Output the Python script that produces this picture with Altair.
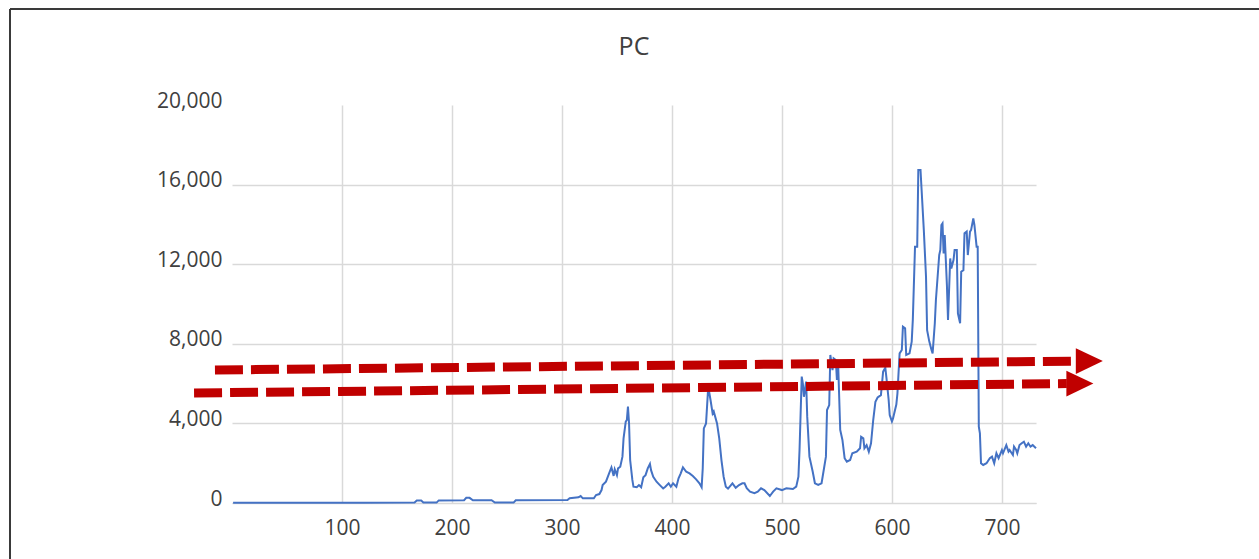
import altair as alt
import pandas as pd

# ---- series ----
xs = [1, 60, 120, 166, 168, 172, 174, 186, 188, 211, 213, 216, 219, 236, 239, 256, 258,
      305, 307, 315, 317, 319, 329, 331, 334, 336, 337, 340, 342, 344, 345, 347, 348, 350,
      351, 353, 355, 356, 358, 359, 360, 361, 362, 364, 365, 368, 370, 372, 374, 376, 378,
      380, 381, 383, 386, 389, 392, 394, 397, 399, 401, 404, 406, 408, 410, 413, 416, 419,
      422, 425, 427, 428, 429, 431, 433, 435, 437, 438, 441, 443, 445, 447, 449, 451, 455,
      458, 461, 464, 466, 468, 471, 475, 478, 481, 484, 489, 492, 495, 500, 504, 510, 513,
      515, 516, 518, 519, 520, 522, 523, 525, 528, 530, 533, 536, 537, 540, 541, 543, 544,
      546, 547, 549, 550, 551, 553, 555, 557, 559, 562, 564, 568, 571, 572, 574, 575, 577,
      579, 581, 583, 585, 587, 590, 592, 594, 595, 597, 598, 600, 601, 604, 605, 607, 609,
      610, 612, 613, 616, 618, 619, 621, 623, 624, 626, 627, 629, 631, 632, 634, 636, 637,
      639, 640, 643, 644, 645, 646, 647, 648, 650, 651, 653, 654, 656, 657, 659, 660, 662,
      663, 665, 666, 668, 669, 671, 672, 674, 675, 677, 678, 679, 680, 681, 683, 686, 689,
      691, 693, 695, 697, 700, 701, 704, 706, 707, 710, 711, 713, 714, 716, 718, 720, 722,
      724, 726, 728, 731]
ys = [10, 10, 15, 20, 120, 120, 20, 20, 130, 140, 260, 260, 140, 140, 20, 20, 140,
      150, 235, 285, 350, 235, 235, 400, 450, 650, 900, 1070, 1360, 1650, 1790, 1360, 1690, 1400,
      1740, 1820, 2330, 3250, 4090, 4170, 4840, 4000, 2160, 1160, 820, 790, 900, 790, 1290, 1400, 1740,
      1960, 1650, 1320, 1070, 900, 730, 820, 990, 820, 990, 820, 1240, 1490, 1790, 1570, 1490, 1360,
      1190, 990, 790, 1740, 3750, 4000, 5850, 5200, 4500, 4600, 4000, 3250, 2160, 1320, 820, 720, 990,
      760, 900, 990, 990, 740, 570, 490, 570, 740, 650, 350, 570, 740, 650, 740, 700, 820,
      1320, 2660, 6350, 6010, 5340, 6100, 4340, 2330, 1570, 990, 905, 990, 1320, 2330, 4670, 4920, 7440,
      6680, 7270, 7190, 6180, 7190, 3670, 3170, 2250, 2080, 2160, 2500, 2580, 2750, 3330, 3250, 2750, 2910,
      2580, 3000, 4170, 5090, 5300, 5420, 6600, 6800, 6300, 5200, 4420, 4100, 4250, 4950, 5500, 7520, 7690,
      8860, 8780, 7440, 7520, 8110, 9200, 12880, 12880, 16730, 16730, 15730, 13720, 11370, 8690, 8110, 7690, 7520,
      9030, 10200, 12460, 12710, 13970, 14050, 12540, 13470, 10950, 9200, 12290, 11790, 12210, 12710, 12710, 9530, 9030,
      11620, 11700, 13550, 13640, 12460, 13640, 13720, 14300, 13970, 12880, 12880, 3840, 3500, 2000, 1910, 2000, 2250,
      2330, 2000, 2500, 2250, 2660, 2500, 2910, 2580, 2660, 2410, 2830, 2660, 2500, 2910, 3000, 3080, 2830,
      3000, 2830, 2910, 2750]

x_ticks = [100, 200, 300, 400, 500, 600, 700]
y_ticks = [0, 4000, 8000, 12000, 16000, 20000]

# ---- annotation arrows (data units) ----
arrow_id = ["upper", "upper", "lower", "lower"]
arrow_x = [-15.5, 767, -34.5, 759]
arrow_y = [6683, 7130, 5528, 6000]
head_x = [779.5, 770.9]
head_y = [7130, 6000]

df = pd.DataFrame({"x": xs, "y": ys})
arrows = pd.DataFrame({"id": arrow_id, "x": arrow_x, "y": arrow_y})
heads = pd.DataFrame({"x": head_x, "y": head_y})

FONT = "Open Sans"
TXT = "#404040"
GRID = "#d9d9d9"

xscale = alt.Scale(domain=[0, 731], nice=False, zero=False)
yscale = alt.Scale(domain=[0, 20000], nice=False)

xaxis = alt.Axis(values=x_ticks, title=None, ticks=False, domain=True, domainColor=GRID,
                 gridColor=GRID, gridWidth=1.5, labelFont=FONT, labelFontSize=21,
                 labelColor=TXT, labelPadding=14, labelAngle=0)
yaxis = alt.Axis(values=y_ticks, title=None, ticks=False, domain=False, format=",.0f",
                 gridColor=GRID, gridWidth=1.5,
                 gridOpacity={"condition": {"test": "datum.value >= 20000", "value": 0}, "value": 1},
                 labelFont=FONT, labelFontSize=21, labelColor=TXT, labelPadding=10,
                 labelOffset=-4)

line = alt.Chart(df).mark_line(color="#4472C4", strokeWidth=2).encode(
    x=alt.X("x:Q", scale=xscale, axis=xaxis),
    y=alt.Y("y:Q", scale=yscale, axis=yaxis),
)

arrow_lines = alt.Chart(arrows).mark_line(
    color="#C00000", strokeWidth=9, strokeDash=[28, 8], strokeCap="butt"
).encode(
    x=alt.X("x:Q", scale=xscale),
    y=alt.Y("y:Q", scale=yscale),
    detail="id:N",
)

arrow_heads = alt.Chart(heads).mark_point(
    shape="M-1,-0.95L1,0L-1,0.95Z", size=729, filled=True, color="#C00000", opacity=1,
    strokeWidth=0
).encode(
    x=alt.X("x:Q", scale=xscale),
    y=alt.Y("y:Q", scale=yscale),
)

frame_left = alt.Chart(df).mark_rule(color="#3a3a3a", strokeWidth=2).encode(
    x=alt.value(-222), y=alt.value(-96), y2=alt.value(460)
)
frame_top = alt.Chart(df).mark_rule(color="#3a3a3a", strokeWidth=2).encode(
    x=alt.value(-222), x2=alt.value(1030), y=alt.value(-96)
)

chart = alt.layer(line, arrow_lines, arrow_heads, frame_left, frame_top).properties(
    width=804,
    height=398,
    background="white",
    title=alt.TitleParams("PC", anchor="middle", font=FONT, fontSize=25,
                          fontWeight="normal", color=TXT, offset=-52),
    padding={"left": 232, "top": 105, "right": 223, "bottom": 56},
    autosize=alt.AutoSizeParams(type="none"),
).configure_view(stroke=None)

chart.save("out.html", embed_options={"renderer": "svg", "actions": False})
